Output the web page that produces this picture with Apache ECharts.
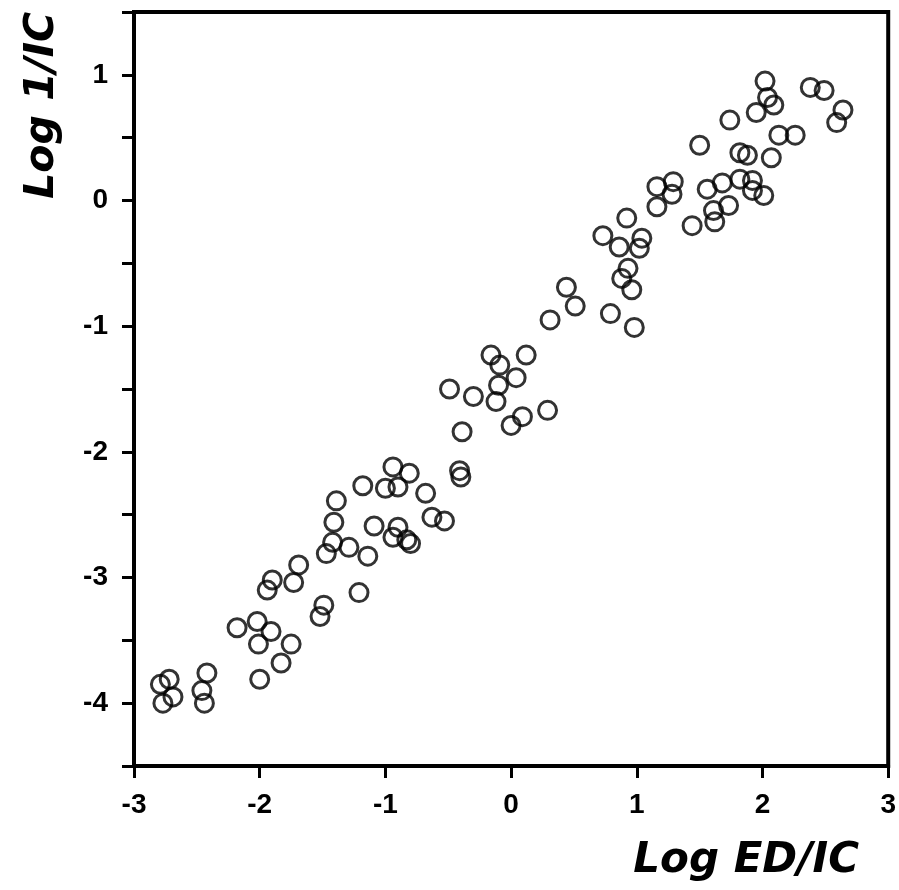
<!DOCTYPE html>
<html>
<head>
<meta charset="utf-8">
<script src="https://cdn.jsdelivr.net/npm/echarts@6/dist/echarts.min.js"></script>
<style>
  html, body { margin: 0; padding: 0; background: #fff; }
  #chart { width: 899px; height: 890px; }
</style>
</head>
<body>
<div id="chart"></div>
<script>
// Log ED/IC values (x) for each compound
const logEDIC = [
  -2.79, -2.72, -2.69, -2.77,
  -2.42, -2.46, -2.44,
  -2.18, -2.02, -1.91, -2.01, -1.75, -1.83, -2.00,
  -1.90, -1.94, -1.69, -1.73,
  -1.52, -1.49, -1.47,
  -0.39, -0.41, -0.40, -0.94, -0.81, -1.18, -1.00, -0.90, -0.68, -1.39, -1.41,
  -0.63, -0.53, -1.09, -0.90, -0.94, -0.83, -0.80, -1.42, -1.29, -1.14, -1.21,
  0.31, 0.51, 0.44, 0.79, -0.16, 0.12, -0.09, 0.04, -0.10, -0.49, -0.30, -0.12,
  0.29, 0.09, 0.00,
  0.92, 0.73, 0.86, 1.04, 1.02, 0.93, 0.88, 0.96, 0.98,
  1.16, 1.28, 1.16, 1.29, 1.44, 1.56, 1.68, 1.73, 1.61, 1.62, 1.92,
  2.02, 2.04, 2.09, 1.95, 2.38, 2.49, 2.64, 2.59, 1.74, 2.13, 2.26, 1.50,
  1.82, 1.88, 2.07, 1.82, 1.92, 2.01
];

// Log 1/IC values (y), same order
const log1IC = [
  -3.85, -3.81, -3.95, -4.00,
  -3.76, -3.90, -4.00,
  -3.40, -3.35, -3.43, -3.53, -3.53, -3.68, -3.81,
  -3.02, -3.10, -2.90, -3.04,
  -3.31, -3.22, -2.81,
  -1.84, -2.15, -2.20, -2.12, -2.17, -2.27, -2.29, -2.28, -2.33, -2.39, -2.56,
  -2.52, -2.55, -2.59, -2.60, -2.68, -2.70, -2.73, -2.72, -2.76, -2.83, -3.12,
  -0.95, -0.84, -0.69, -0.90, -1.23, -1.23, -1.31, -1.41, -1.47, -1.50, -1.56, -1.60,
  -1.67, -1.72, -1.79,
  -0.14, -0.28, -0.37, -0.30, -0.38, -0.54, -0.62, -0.71, -1.01,
  0.11, 0.05, -0.05, 0.15, -0.20, 0.09, 0.14, -0.04, -0.08, -0.17, 0.08,
  0.95, 0.82, 0.76, 0.70, 0.90, 0.875, 0.72, 0.62, 0.64, 0.52, 0.52, 0.44,
  0.38, 0.36, 0.34, 0.17, 0.16, 0.04
];

// Axis ranges and tick spacing
const xRange = [-3, 3];
const xStep = 1;
const yRange = [-4.5, 1.5];
const yStep = 0.5;

const xTitle = 'Log ED/IC';
const yTitle = 'Log 1/IC';

const points = logEDIC.map((x, i) => [x, log1IC[i]]);

const chart = echarts.init(document.getElementById('chart'), null, { renderer: 'canvas' });

const tickFont = {
  color: '#000',
  fontFamily: 'Liberation Sans, Arial, sans-serif',
  fontWeight: 'bold',
  fontSize: 28
};

const frameLine = { show: true, onZero: false, lineStyle: { color: '#000', width: 4 } };
const tickStyle = { show: true, inside: false, length: 12, lineStyle: { color: '#000', width: 3 } };

chart.setOption({
  animation: false,
  backgroundColor: '#fff',
  grid: {
    left: 134, right: 9, top: 12, bottom: 124,
    show: true,
    borderColor: '#000',
    borderWidth: 4
  },
  xAxis: {
    type: 'value',
    min: xRange[0], max: xRange[1], interval: xStep,
    axisLine: frameLine,
    axisTick: tickStyle,
    axisLabel: Object.assign({ margin: 25 }, tickFont),
    splitLine: { show: false }
  },
  yAxis: {
    type: 'value',
    min: yRange[0], max: yRange[1], interval: yStep,
    axisLine: frameLine,
    axisTick: tickStyle,
    axisLabel: Object.assign({
      margin: 26,
      formatter: v => (Number.isInteger(v) ? String(v) : '')
    }, tickFont),
    splitLine: { show: false }
  },
  graphic: [
    {
      type: 'text',
      right: 40, bottom: 8,
      style: {
        text: xTitle,
        fill: '#000',
        font: 'italic bold 42px "DejaVu Sans", sans-serif'
      }
    },
    {
      type: 'text',
      left: 22, top: 12,
      rotation: Math.PI / 2,
      style: {
        text: yTitle,
        fill: '#000',
        font: 'italic bold 41px "DejaVu Sans", sans-serif'
      }
    }
  ],
  series: [{
    type: 'scatter',
    data: points,
    symbol: 'circle',
    symbolSize: 18,
    itemStyle: {
      color: 'rgba(255,255,255,0)',
      borderColor: '#000',
      borderWidth: 3
    }
  }]
});
</script>
</body>
</html>
